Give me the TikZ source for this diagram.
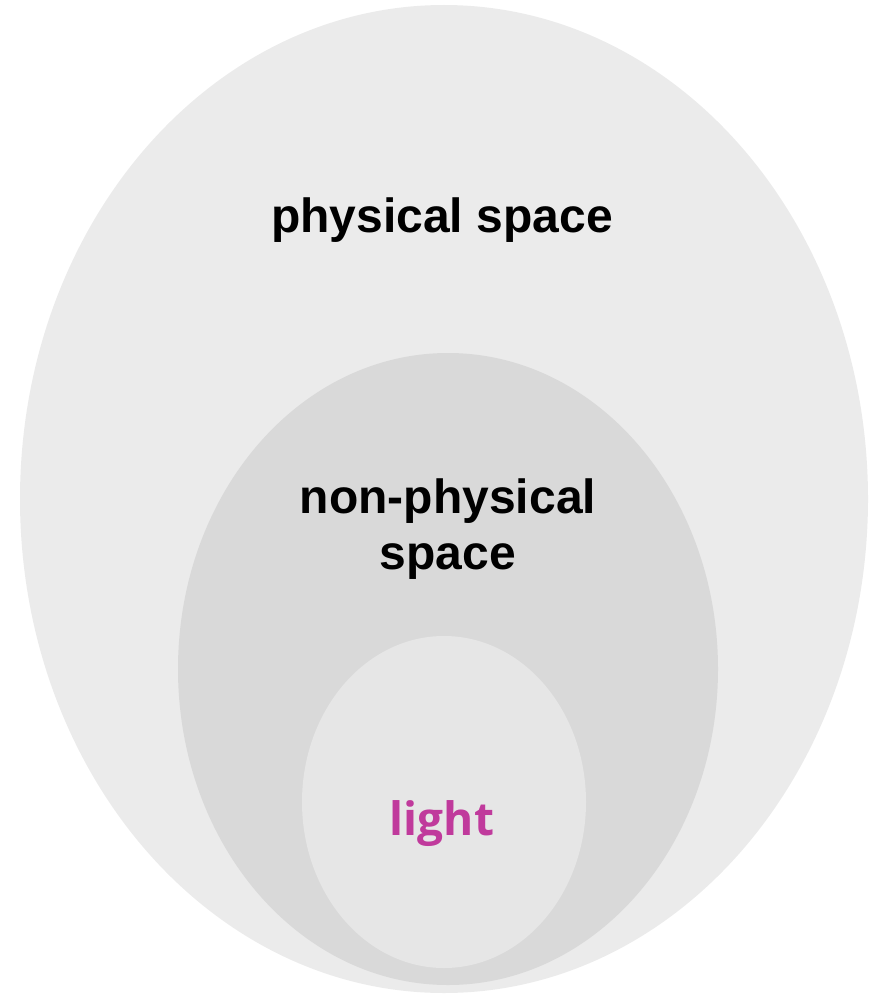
\documentclass[tikz,border=0pt]{standalone}
\usepackage{fontspec}
\setmainfont{Liberation Sans}
\newfontfamily\lightfont{Open Sans}
\definecolor{outerc}{HTML}{EBEBEB}
\definecolor{midc}{HTML}{D9D9D9}
\definecolor{innerc}{HTML}{E6E6E6}
\definecolor{lightc}{HTML}{C03A9C}
\begin{document}
\begin{tikzpicture}[x=1pt,y=-1pt,
  blob/.style={ellipse, draw=none, inner sep=0pt},
  lbl/.style={font=\fontsize{48}{56}\selectfont\bfseries, text=black, anchor=base, align=center}]
\useasboundingbox (0,0) rectangle (869,995);
\fill[outerc] (444,499) ellipse [x radius=424, y radius=494];
\fill[midc] (448,669) ellipse [x radius=270, y radius=316];
\fill[innerc] (444,802) ellipse [x radius=142, y radius=166];
\coordinate (c1) at (442,232);
\node[lbl] (phys) at (c1) {physical space};
\node[lbl, anchor=base] (nonphys1) at (448,513) {non-physical};
\node[lbl, anchor=base] (nonphys2) at (448,569) {space};
\node[anchor=base, font=\lightfont\fontsize{46}{54}\selectfont\bfseries, text=lightc] (light) at (442,835) {light};
\end{tikzpicture}
\end{document}
